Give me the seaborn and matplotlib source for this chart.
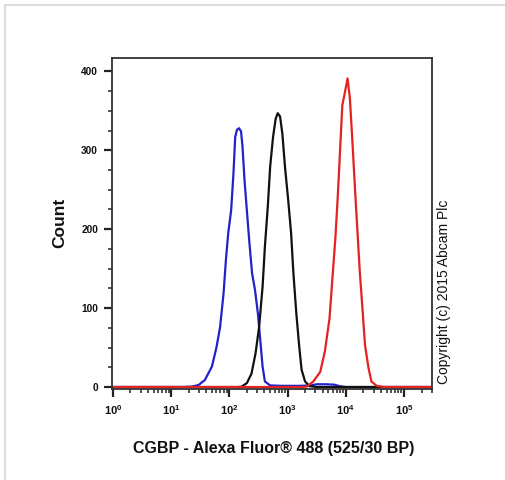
import numpy as np
import pandas as pd
import matplotlib
matplotlib.use("Agg")
import matplotlib.pyplot as plt
import seaborn as sns
from matplotlib.ticker import FixedLocator, MultipleLocator, NullFormatter
from matplotlib.lines import Line2D

sns.set_theme(style="ticks")
plt.rcParams["font.family"] = ["Liberation Sans", "DejaVu Sans"]
plt.rcParams["mathtext.fontset"] = "custom"
plt.rcParams["mathtext.rm"] = "Liberation Sans"
plt.rcParams["mathtext.bf"] = "Liberation Sans:bold"
plt.rcParams["mathtext.default"] = "regular"

# ---- data (log10 of fluorescence, counts) ----
blue_log = [0.0, 1.20, 1.35, 1.47, 1.58, 1.70, 1.78, 1.84, 1.90, 1.94, 1.98, 2.03,
            2.07, 2.10, 2.13, 2.165, 2.20, 2.225, 2.26, 2.30, 2.34, 2.39, 2.44, 2.49,
            2.53, 2.57, 2.61, 2.70, 2.90, 3.20, 3.40, 3.50, 3.65, 3.80, 3.90, 4.00, 5.48]
blue_count = [0, 0, 0.5, 2.5, 9, 26, 51, 76, 119, 161, 195, 224,
              271, 317, 326, 328, 324, 305, 262, 224, 186, 144, 123, 93,
              60, 26, 7, 2, 1.5, 1.5, 2, 3.5, 3.5, 3, 1, 0, 0]

black_log = [0.0, 2.15, 2.21, 2.30, 2.38, 2.45, 2.51, 2.57, 2.61, 2.66, 2.70, 2.75,
             2.795, 2.83, 2.87, 2.91, 2.955, 3.01, 3.06, 3.10, 3.15, 3.20, 3.24,
             3.30, 3.38, 3.50, 5.48]
black_count = [0, 0, 0.5, 5, 17, 43, 76, 127, 178, 229, 279, 317,
               340, 347, 343, 321, 279, 237, 195, 144, 93, 51, 22,
               7, 1, 0, 0]

red_log = [0.0, 3.25, 3.33, 3.44, 3.56, 3.64, 3.72, 3.77, 3.82, 3.86, 3.90, 3.94,
           3.975, 4.03, 4.07, 4.12, 4.16, 4.20, 4.24, 4.29, 4.33, 4.39, 4.44,
           4.53, 4.65, 5.48]
red_count = [0, 0, 0.5, 7, 19, 45, 87, 138, 188, 239, 298, 357,
             370, 391, 366, 302, 248, 197, 146, 95, 53, 24, 7,
             1.5, 0, 0]

series_names = ["blue", "black", "red"]
series_colors = {"blue": "#2222c8", "black": "#111111", "red": "#e32222"}

x_tick_exponents = [0, 1, 2, 3, 4, 5]
y_ticks = [0, 100, 200, 300, 400]

frames = []
for name, lg, ct in [("blue", blue_log, blue_count),
                     ("black", black_log, black_count),
                     ("red", red_log, red_count)]:
    frames.append(pd.DataFrame({"fl": np.power(10.0, lg), "count": ct,
                                "series": name}))
df = pd.concat(frames, ignore_index=True)

fig = plt.figure(figsize=(5.06, 4.80), dpi=100)
fig.patch.set_facecolor("white")

# faint outer frame (top & left)
fig.add_artist(Line2D([5 / 506, 1.0], [1 - 5 / 480, 1 - 5 / 480],
                      transform=fig.transFigure, color="#dddddd", lw=1.5))
fig.add_artist(Line2D([5 / 506, 5 / 506], [0.0, 1 - 5 / 480],
                      transform=fig.transFigure, color="#dddddd", lw=1.5))

ax = fig.add_axes([0.2213, 0.1896, 0.6324, 0.6896])
ax.set_xscale("log")

sns.lineplot(data=df, x="fl", y="count", hue="series", hue_order=series_names,
             palette=series_colors, sort=False, estimator=None, units="series",
             linewidth=1.6, legend=False, ax=ax)

ax.set_xlim(10 ** -0.017, 10 ** 5.48)
ax.set_ylim(-2.5, 417)

ax.xaxis.set_major_locator(FixedLocator([10.0 ** e for e in x_tick_exponents]))
minors = [m * 10.0 ** e for e in range(0, 6) for m in range(2, 10)]
ax.xaxis.set_minor_locator(FixedLocator(minors))
ax.xaxis.set_minor_formatter(NullFormatter())
ax.set_xticklabels([r"$\mathbf{10^{%d}}$" % e for e in x_tick_exponents], fontsize=8)

ax.yaxis.set_major_locator(FixedLocator(y_ticks))
ax.yaxis.set_minor_locator(MultipleLocator(25))
ax.set_yticklabels([str(v) for v in y_ticks], fontsize=7.3, fontweight="bold")

ax.tick_params(axis="both", which="major", length=6, width=1.6, direction="out",
               color="#222222", labelcolor="#111111")
ax.tick_params(axis="both", which="minor", length=3, width=1.1, direction="out",
               color="#222222")
ax.tick_params(axis="y", which="major", pad=4)
ax.tick_params(axis="x", which="major", pad=4)

for sp in ax.spines.values():
    sp.set_visible(True)
    sp.set_color("#333333")
    sp.set_linewidth(1.3)

ax.set_xlabel("")
ax.set_ylabel("")

fig.text(274 / 506, 1 - 449 / 480, "CGBP - Alexa Fluor\u00ae 488 (525/30 BP)",
         ha="center", va="center", fontsize=11.5, fontweight="bold", color="#111111")
fig.text(60 / 506, 1 - 223 / 480, "Count", rotation=90, ha="center", va="center",
         fontsize=12.5, fontweight="bold", color="#111111")
fig.text(444 / 506, 1 - 384 / 480, "Copyright (c) 2015 Abcam Plc", rotation=90,
         ha="center", va="bottom", fontsize=10, color="#111111")

fig.savefig("out.png", dpi=100, facecolor="white")
